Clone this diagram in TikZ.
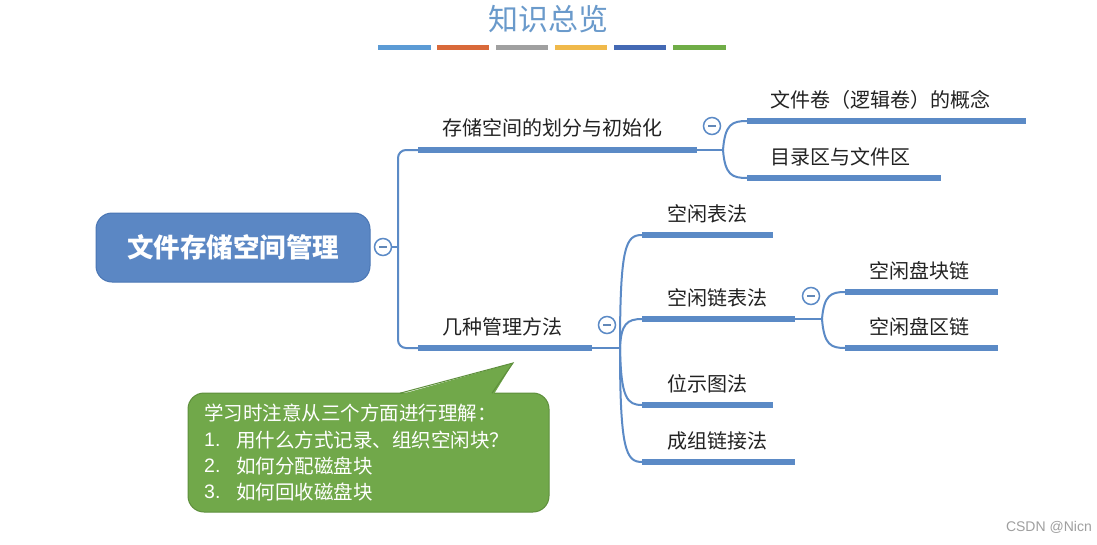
\documentclass[tikz,border=0pt]{standalone}
\usepackage{fontspec}
\setmainfont{Liberation Sans}
\newfontfamily\cjk{Noto Sans CJK SC}
\definecolor{lineblue}{HTML}{5B8AC6}
\definecolor{rootblue}{HTML}{5B87C4}
\definecolor{rootedge}{HTML}{4A76B4}
\definecolor{titleblue}{HTML}{6A9ACB}
\definecolor{callgreen}{HTML}{71A84A}
\definecolor{calledge}{HTML}{5E8F3C}
\definecolor{txt}{HTML}{222222}
\definecolor{barA}{HTML}{5B9BD5}
\definecolor{barB}{HTML}{D9693A}
\definecolor{barC}{HTML}{A0A0A0}
\definecolor{barD}{HTML}{F0B94A}
\definecolor{barE}{HTML}{4469B4}
\definecolor{barF}{HTML}{70AD47}
\tikzset{
  conn/.style={draw=lineblue, line width=2pt},
  uline/.style={draw=lineblue, line width=5.5pt},
  label/.style={anchor=west, inner sep=0pt, text=txt, font=\cjk\fontsize{20}{24}\selectfont},
  btn/.style={circle, draw=lineblue, line width=1.5pt, fill=white, minimum size=17pt, inner sep=0pt},
  bar/.style={line width=5pt},
}
\newcommand{\minusmark}[1]{\draw[lineblue!80!gray, line width=1.6pt] ([xshift=-4pt]#1.center) -- ([xshift=4pt]#1.center);}
\begin{document}
\begin{tikzpicture}[x=1pt,y=-1pt]
\useasboundingbox (0,0) rectangle (1097,544);
\fill[white] (0,0) rectangle (1097,544);

% title
\node[text=titleblue, font=\cjk\fontsize{30}{32}\selectfont, inner sep=0pt] (title) at (548,19) {知识总览};
\draw[bar, barA] (378,47.5) -- (431,47.5);
\draw[bar, barB] (437,47.5) -- (489,47.5);
\draw[bar, barC] (496,47.5) -- (548,47.5);
\draw[bar, barD] (555,47.5) -- (607,47.5);
\draw[bar, barE] (614,47.5) -- (666,47.5);
\draw[bar, barF] (673,47.5) -- (726,47.5);

% root
\node[draw=rootedge, line width=1pt, fill=rootblue, rounded corners=16pt, minimum width=274pt, minimum height=69pt, text=white, font=\cjk\bfseries\fontsize{26.5}{30}\selectfont] (root) at (233,247.5) {文件存储空间管理};
\node[btn] (r0) at (383,247) {};
\minusmark{r0}

% level 1 labels
\node[label] (b1) at (442,128) {存储空间的划分与初始化};
\node[label] (b2) at (442,327) {几种管理方法};
\coordinate (b1s) at (418,150); \coordinate (b1e) at (697,150); \coordinate (b1x) at (723,150);
\coordinate (b2s) at (418,348); \coordinate (b2e) at (592,348); \coordinate (b2x) at (620,348);
\draw[conn] (r0.east) -- (398,247);
\draw[conn, rounded corners=8pt] (398,247) |- (b1s);
\draw[conn, rounded corners=8pt] (398,247) |- (b2s);
\draw[uline] (b1s) -- (b1e);
\draw[uline] (b2s) -- (b2e);
\draw[conn] (b1e) -- (b1x);
\draw[conn] (b2e) -- (b2x);
\node[btn] (r1) at (712,126) {};
\minusmark{r1}
\node[btn] (r2) at (607,325) {};
\minusmark{r2}

% level 2 under branch 1
\node[label] (c11) at (770,100) {文件卷（逻辑卷）的概念};
\node[label] (c12) at (770,157) {目录区与文件区};
\coordinate (c11s) at (747,121); \coordinate (c11e) at (1026,121);
\coordinate (c12s) at (747,178); \coordinate (c12e) at (941,178);
\draw[uline] (c11s) -- (c11e);
\draw[uline] (c12s) -- (c12e);
\draw[conn] (b1x) .. controls (725,124) and (732,121) .. (c11s);
\draw[conn] (b1x) .. controls (725,175) and (732,178) .. (c12s);

% level 2 under branch 2
\node[label] (c21) at (667,214) {空闲表法};
\node[label] (c22) at (667,298) {空闲链表法};
\node[label] (c23) at (667,384) {位示图法};
\node[label] (c24) at (667,441) {成组链接法};
\coordinate (c21s) at (642,235); \coordinate (c21e) at (773,235);
\coordinate (c22s) at (642,319); \coordinate (c22e) at (795,319); \coordinate (c22x) at (822,319);
\coordinate (c23s) at (642,405); \coordinate (c23e) at (773,405);
\coordinate (c24s) at (642,462); \coordinate (c24e) at (795,462);
\draw[uline] (c21s) -- (c21e);
\draw[uline] (c22s) -- (c22e);
\draw[uline] (c23s) -- (c23e);
\draw[uline] (c24s) -- (c24e);
\draw[conn] (b2x) .. controls (620,245) and (626,235) .. (c21s);
\draw[conn] (b2x) .. controls (621,324) and (627,319) .. (c22s);
\draw[conn] (b2x) .. controls (621,398) and (627,405) .. (c23s);
\draw[conn] (b2x) .. controls (620,450) and (626,462) .. (c24s);
\draw[conn] (c22e) -- (c22x);
\node[btn] (r3) at (811,296) {};
\minusmark{r3}

% level 3
\node[label] (d1) at (869,271) {空闲盘块链};
\node[label] (d2) at (869,327) {空闲盘区链};
\coordinate (d1s) at (845,292); \coordinate (d1e) at (998,292);
\coordinate (d2s) at (845,348); \coordinate (d2e) at (998,348);
\draw[uline] (d1s) -- (d1e);
\draw[uline] (d2s) -- (d2e);
\draw[conn] (c22x) .. controls (824,295) and (831,292) .. (d1s);
\draw[conn] (c22x) .. controls (824,345) and (831,348) .. (d2s);

% callout
\node[draw=calledge, fill=callgreen, line width=1pt, rounded corners=16pt, minimum width=361pt, minimum height=119pt, inner sep=0pt] (call) at (368.5,452.5) {};
\coordinate (tip) at (513,363);
\fill[callgreen] (399,394.8) -- (tip) -- (493.5,394.8) -- cycle;
\draw[calledge, line width=1pt, line join=miter, miter limit=20] (400,393.2) -- (tip) -- (492,393.2);
\begin{scope}[every node/.style={anchor=west, inner sep=0pt, text=white, font=\cjk\fontsize{19.5}{22}\selectfont}]
\node (n0) at (204,413) {学习时注意从三个方面进行理解：};
\node (n1) at (204,440) {\fontspec{Liberation Sans}1.};
\node (t1) at (236,440) {用什么方式记录、组织空闲块？};
\node (n2) at (204,466) {\fontspec{Liberation Sans}2.};
\node (t2) at (236,466) {如何分配磁盘块};
\node (n3) at (204,492) {\fontspec{Liberation Sans}3.};
\node (t3) at (236,492) {如何回收磁盘块};
\end{scope}

% watermark
\node[anchor=east, inner sep=0pt, text=gray!75, font=\fontsize{14}{16}\selectfont] (wm) at (1092,527) {CSDN @Nicn};
\end{tikzpicture}
\end{document}
